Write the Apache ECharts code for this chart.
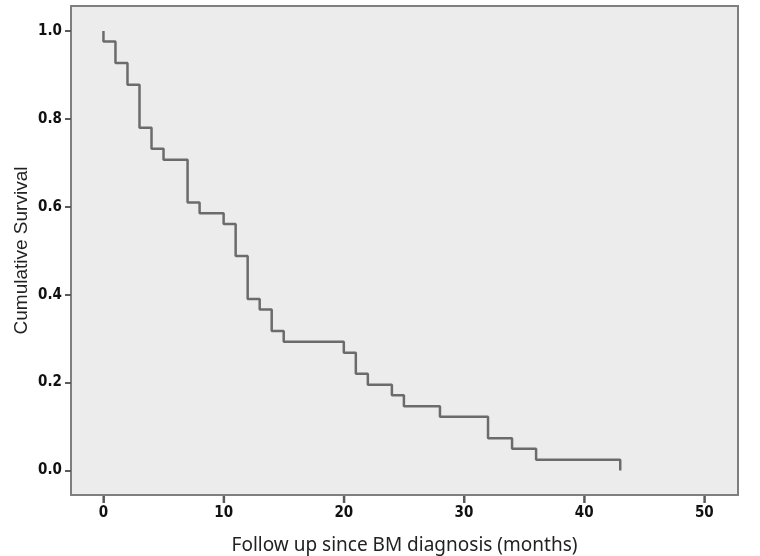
<!DOCTYPE html>
<html>
<head>
<meta charset="utf-8">
<script src="https://cdn.jsdelivr.net/npm/echarts@6/dist/echarts.min.js"></script>
<style>
html,body{margin:0;padding:0;background:#fff;}
#chart{width:760px;height:556px;}
</style>
</head>
<body>
<div id="chart"></div>
<script>
// Kaplan-Meier step points (time in months, cumulative survival)
const times = [0, 0, 1, 2, 3, 4, 5, 7, 8, 10, 11, 12, 13, 14, 15, 20, 21, 22, 24, 25, 28, 32, 34, 36, 43];
const survival = [1.0, 0.976, 0.927, 0.878, 0.780, 0.732, 0.707, 0.610, 0.585, 0.561, 0.488, 0.390, 0.366, 0.317, 0.293, 0.268, 0.220, 0.195, 0.171, 0.146, 0.122, 0.073, 0.049, 0.024, 0.0];
const xTicks = [0, 10, 20, 30, 40, 50];
const yTicks = [0.0, 0.2, 0.4, 0.6, 0.8, 1.0];
const xTitle = 'Follow up since BM diagnosis (months)';
const yTitle = 'Cumulative Survival';

const X_MIN = -2.7, X_MAX = 52.8, Y_MIN = -0.056, Y_MAX = 1.057;
const data = times.map((t, i) => [t, survival[i]]);
const tickFont = {
  fontFamily: '"Liberation Sans Narrow", "DejaVu Sans Condensed", "Liberation Sans", sans-serif',
  fontWeight: 'bold', fontSize: 15, color: '#111'
};

const chart = echarts.init(document.getElementById('chart'), null, {renderer: 'canvas'});
chart.setOption({
  animation: false,
  backgroundColor: '#ffffff',
  grid: {
    left: 71, right: 22, top: 6, bottom: 61,
    outerBoundsMode: 'none', containLabel: false,
    show: true, backgroundColor: '#ececec', borderColor: '#7f7f7f', borderWidth: 2
  },
  xAxis: {
    type: 'value', min: X_MIN, max: X_MAX, position: 'bottom',
    axisLine: {show: true, onZero: false, lineStyle: {color: '#7f7f7f', width: 2}},
    splitLine: {show: false},
    axisTick: {show: false},
    axisLabel: Object.assign({customValues: xTicks, margin: 11, formatter: v => String(Math.round(v))}, tickFont),
    name: xTitle, nameLocation: 'middle', nameGap: 41, nameMoveOverlap: false,
    nameTextStyle: {fontFamily: '"Noto Sans", "Open Sans", sans-serif', fontSize: 19, color: '#222'}
  },
  yAxis: {
    type: 'value', min: Y_MIN, max: Y_MAX,
    axisLine: {show: true, onZero: false, lineStyle: {color: '#7f7f7f', width: 2}},
    splitLine: {show: false},
    axisTick: {show: true, customValues: yTicks, length: 6, lineStyle: {color: '#5a5a5a', width: 2}},
    axisLabel: Object.assign({customValues: yTicks, margin: 9, formatter: v => v.toFixed(1)}, tickFont),
    name: yTitle, nameLocation: 'middle', nameGap: 40, nameRotate: 90, nameMoveOverlap: false,
    nameTextStyle: {fontFamily: '"Liberation Sans", "Noto Sans", sans-serif', fontSize: 19, color: '#222'}
  },
  series: [{
    type: 'line', step: 'end', data: data,
    showSymbol: false, symbol: 'none',
    lineStyle: {color: '#6b6b6b', width: 2.5},
    silent: true
  }]
});

// x-axis tick marks below the frame, positioned through the chart's own scale
const tickGraphics = xTicks.map(v => {
  const p = chart.convertToPixel({xAxisIndex: 0, yAxisIndex: 0}, [v, Y_MIN]);
  return {
    type: 'rect', silent: true, z: 100,
    shape: {x: p[0] - 1, y: p[1] + 1, width: 2.5, height: 7},
    style: {fill: '#5a5a5a'}
  };
});
chart.setOption({graphic: tickGraphics});
</script>
</body>
</html>
